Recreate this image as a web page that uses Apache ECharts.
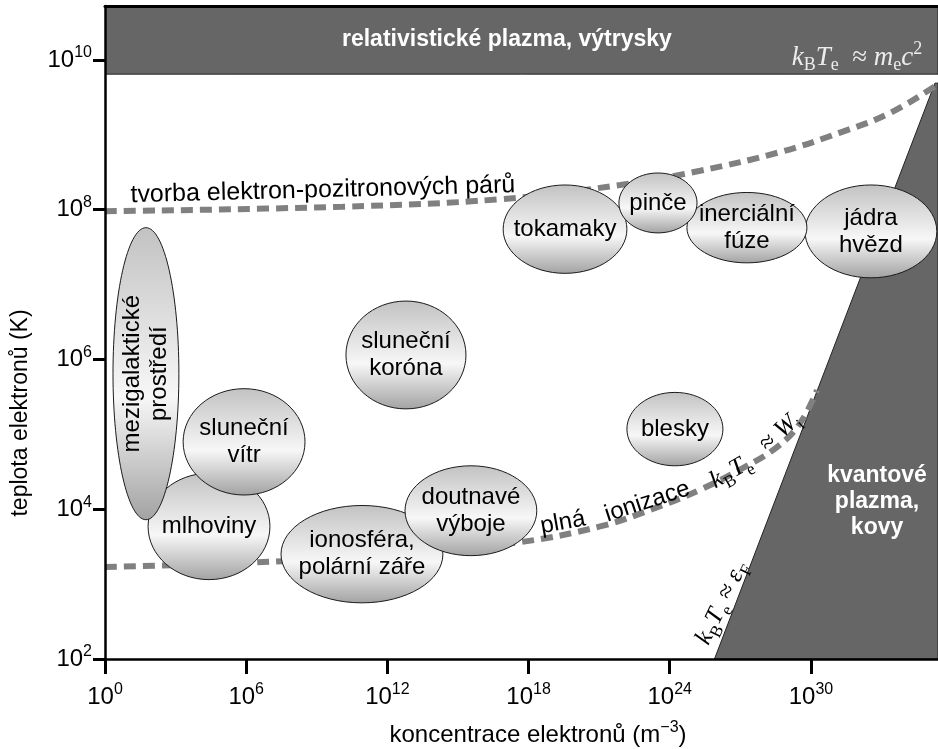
<!DOCTYPE html>
<html>
<head>
<meta charset="utf-8">
<script src="https://cdn.jsdelivr.net/npm/echarts@6/dist/echarts.min.js"></script>
<style>
  html, body { margin: 0; padding: 0; background: #fff; }
  #chart { width: 938px; height: 749px; }
</style>
</head>
<body>
<div id="chart"></div>
<script>
// all values are decimal exponents: x = log10(n_e in m^-3), y = log10(T_e in K)
const xTicks = [0, 6, 12, 18, 24, 30];
const yTicks = [2, 4, 6, 8, 10];
const xRange = [0, 35.4];
const yRange = [2, 10.72];

// k_B T_e ~ 2 m_e c^2 (pair creation)
const pairX = [0, 10.11, 16.79, 21.89, 25.29, 28.69, 31.24, 33.36, 35.27];
const pairY = [7.98, 8.04, 8.14, 8.33, 8.52, 8.77, 9.03, 9.29, 9.65];

// k_B T_e ~ W_i (full ionisation)
const ionX = [0, 7.14, 13.39, 17.64, 21.04, 23.16, 25.29, 26.99, 28.56, 29.54, 30.26];
const ionY = [3.23, 3.30, 3.43, 3.56, 3.77, 3.99, 4.26, 4.53, 4.83, 5.15, 5.59];

// relativistic band and degenerate region
const relBand = [[0, 9.81], [35.4, 9.81], [35.4, 10.72], [0, 10.72]];
const quantumArea = [[25.9, 2], [35.27, 9.69], [35.4, 9.69], [35.4, 2]];

// plasma kinds: centre and half-span in decades
const regionNames = [
  'mlhoviny', 'mezigalaktické\nprostředí', 'sluneční\nvítr', 'sluneční\nkoróna',
  'ionosféra,\npolární záře', 'doutnavé\nvýboje', 'blesky', 'tokamaky',
  'jádra\nhvězd', 'inerciální\nfúze', 'pinče'
];
const regionX = [4.42, 1.74, 5.91, 12.79, 10.92, 15.55, 24.22, 19.55, 32.55, 27.28, 23.50];
const regionY = [3.77, 5.81, 4.90, 6.06, 3.40, 3.98, 5.07, 7.74, 7.71, 7.76, 8.09];
const regionDx = [2.59, 1.40, 2.59, 2.55, 3.44, 2.80, 2.04, 2.63, 2.80, 2.55, 1.66];
const regionDy = [0.71, 1.95, 0.71, 0.72, 0.65, 0.60, 0.49, 0.59, 0.62, 0.47, 0.40];
const regionRot = [0, 90, 0, 0, 0, 0, 0, 0, 0, 0, 0];

// annotations
const noteText = [
  'relativistické plazma, výtrysky',
  '{i|k}{s|B}{i|T}{s|e}{r|  ≈ }{i|m}{s|e}{i|c}{p|2}',
  'kvantové\nplazma,\nkovy',
  'tvorba elektron-pozitronových párů',
  'plná',
  'ionizace',
  '{i|k}{s|B}{i|T}{s|e}',
  '{r|≈ }{i|W}{s|i}',
  '{i|k}{s|B}{i|T}{s|e}{r| ≈ }{i|ε}{s|F}'
];
const noteX = [17.08, 31.96, 32.81, 9.26, 19.46, 23.05, 26.60, 28.69, 26.22];
const noteY = [10.27, 10.03, 4.10, 8.26, 3.82, 4.10, 4.50, 5.03, 2.75];
const noteRot = [0, 0, 0, 1.5, 10, 18, 30, 42, 64];
const noteKind = ['title', 'mathLight', 'title', 'plain', 'plain', 'plain', 'math', 'math', 'math'];

const sans = '"Liberation Sans", Arial, Helvetica, sans-serif';
const serif = '"Liberation Serif", "DejaVu Serif", serif';

const mathRich = (color, size) => ({
  i: { fontFamily: serif, fontStyle: 'italic', fontSize: size, lineHeight: 34, fill: color, color: color },
  r: { fontFamily: serif, fontSize: size, lineHeight: 34, fill: color, color: color },
  s: { fontFamily: serif, fontSize: Math.round(size * 0.68), lineHeight: 34, verticalAlign: 'bottom', fill: color, color: color },
  p: { fontFamily: serif, fontSize: Math.round(size * 0.68), lineHeight: 34, verticalAlign: 'top', fill: color, color: color }
});

const tickRich = {
  b: { fontFamily: sans, fontSize: 24, lineHeight: 30, color: '#000' },
  s: { fontFamily: sans, fontSize: 16, lineHeight: 30, verticalAlign: 'top', color: '#000' }
};
const powerLabel = (v) => '{b|10}{s|' + Math.round(v) + '}';

function shade() {
  return {
    type: 'linear', x: 0, y: 0, x2: 0, y2: 1,
    colorStops: [
      { offset: 0, color: '#c2c2c2' },
      { offset: 0.58, color: '#f7f7f7' },
      { offset: 1, color: '#a2a2a2' }
    ]
  };
}

function areaSeries(points, z) {
  return {
    type: 'custom',
    silent: true,
    z: z,
    clip: true,
    data: [[points[0][0], points[0][1]]],
    renderItem: (params, api) => ({
      type: 'polygon',
      shape: { points: points.map((p) => api.coord(p)) },
      style: { fill: '#666666', stroke: '#222', lineWidth: 1 }
    })
  };
}

const dashStyle = { color: '#808080', width: 6, type: [12, 7], cap: 'butt' };

const chart = echarts.init(document.getElementById('chart'));
chart.setOption({
  animation: false,
  grid: { left: 105, right: 0, top: 6, bottom: 90, outerBoundsMode: 'none' },
  xAxis: [
    {
      type: 'value', min: xRange[0], max: xRange[1], z: 10,
      axisLine: { show: true, onZero: false, lineStyle: { color: '#000', width: 2.5 } },
      axisTick: { show: true, customValues: xTicks, length: 15, lineStyle: { color: '#000', width: 3 } },
      axisLabel: { customValues: xTicks, formatter: powerLabel, rich: tickRich, margin: 23 },
      splitLine: { show: false }
    },
    {
      type: 'value', position: 'top', min: xRange[0], max: xRange[1], z: 10,
      axisLine: { show: true, onZero: false, lineStyle: { color: '#000', width: 3 } },
      axisTick: { show: false }, axisLabel: { show: false }, splitLine: { show: false }
    }
  ],
  yAxis: {
    type: 'value', min: yRange[0], max: yRange[1], z: 10,
    axisLine: { show: true, onZero: false, lineStyle: { color: '#000', width: 2.5 } },
    axisTick: { show: true, customValues: yTicks, length: 12, lineStyle: { color: '#000', width: 3 } },
    axisLabel: { customValues: yTicks, formatter: powerLabel, rich: tickRich, margin: 13 },
    splitLine: { show: false }
  },
  graphic: [
    {
      type: 'text', x: 538, y: 735, z: 10,
      style: {
        text: '{t|koncentrace elektronů (m}{s|−3}{t|)}',
        align: 'center', verticalAlign: 'middle',
        rich: {
          t: { fontFamily: sans, fontSize: 24, lineHeight: 30, fill: '#000' },
          s: { fontFamily: sans, fontSize: 16, lineHeight: 30, verticalAlign: 'top', fill: '#000' }
        }
      }
    },
    {
      type: 'text', x: 21, y: 413, rotation: Math.PI / 2, z: 10,
      style: {
        text: 'teplota elektronů (K)', font: '23px ' + sans, fill: '#000',
        align: 'center', verticalAlign: 'middle'
      }
    }
  ],
  series: [
    areaSeries(relBand, 1),
    areaSeries(quantumArea, 1),
    {
      type: 'line', z: 2, smooth: 0.4, symbol: 'none', silent: true,
      data: pairX.map((x, i) => [x, pairY[i]]),
      lineStyle: dashStyle
    },
    {
      type: 'line', z: 2, smooth: 0.4, symbol: 'none', silent: true,
      data: ionX.map((x, i) => [x, ionY[i]]),
      lineStyle: dashStyle
    },
    {
      type: 'custom', z: 3, silent: true,
      data: regionX.map((x, i) => [x, regionY[i], regionDx[i], regionDy[i]]),
      encode: { x: 0, y: 1 },
      renderItem: (params, api) => {
        const i = params.dataIndex;
        const c = api.coord([api.value(0), api.value(1)]);
        const s = api.size([api.value(2), api.value(3)]);
        return {
          type: 'group',
          children: [
            {
              type: 'ellipse',
              shape: { cx: c[0], cy: c[1], rx: s[0], ry: s[1] },
              style: { fill: shade(), stroke: '#1a1a1a', lineWidth: 1 }
            },
            {
              type: 'text', x: c[0], y: c[1], rotation: regionRot[i] * Math.PI / 180,
              style: {
                text: regionNames[i], font: '24px ' + sans, fill: '#000',
                align: 'center', verticalAlign: 'middle', lineHeight: 27
              }
            }
          ]
        };
      }
    },
    {
      type: 'custom', z: 4, silent: true,
      data: noteX.map((x, i) => [x, noteY[i]]),
      renderItem: (params, api) => {
        const i = params.dataIndex;
        const c = api.coord([api.value(0), api.value(1)]);
        const kind = noteKind[i];
        const style = { text: noteText[i], align: 'center', verticalAlign: 'middle' };
        if (kind === 'title') {
          Object.assign(style, { font: 'bold 23px ' + sans, fill: '#fff', lineHeight: 26 });
        } else if (kind === 'plain') {
          Object.assign(style, { font: (i === 3 ? 25 : 24) + 'px ' + sans, fill: '#000' });
        } else {
          style.rich = kind === 'mathLight' ? mathRich('#ececec', 27) : mathRich('#000', 25);
        }
        return { type: 'text', x: c[0], y: c[1], rotation: noteRot[i] * Math.PI / 180, style: style };
      }
    }
  ]
});
</script>
</body>
</html>
